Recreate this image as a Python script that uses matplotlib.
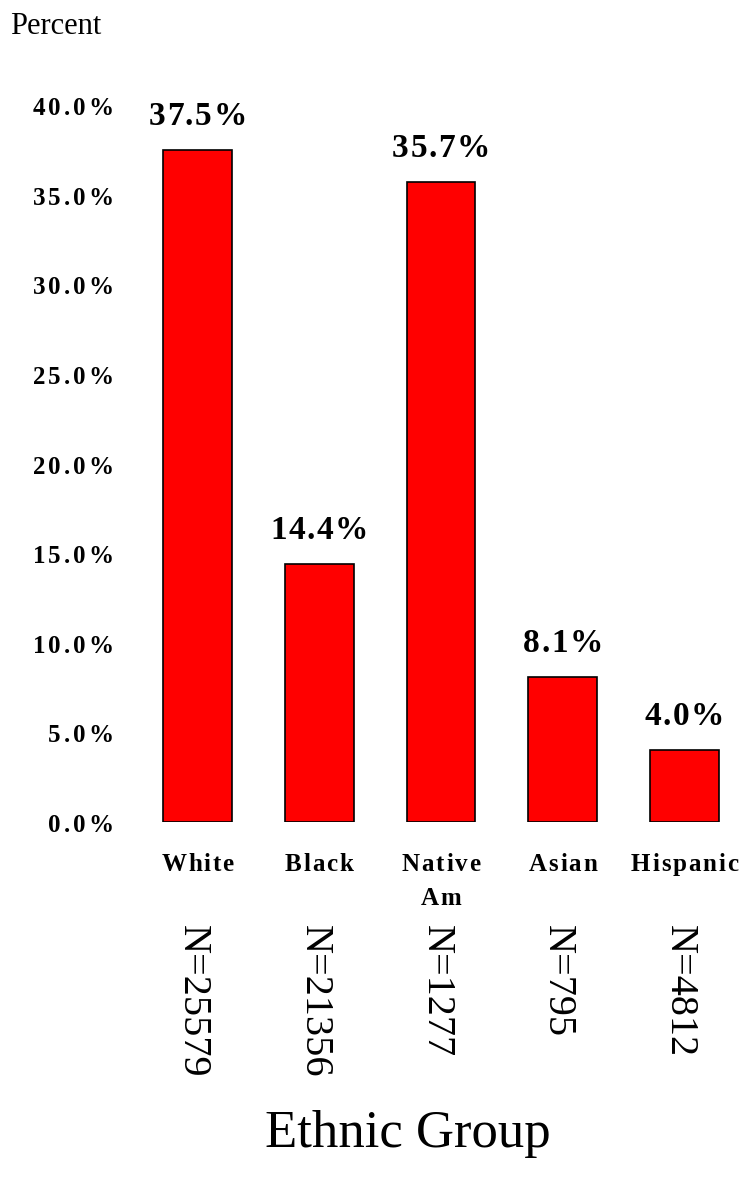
import numpy as np
import matplotlib.pyplot as plt
from matplotlib import font_manager, ft2font

groups = ["White", "Black", "Native\nAm", "Asian", "Hispanic"]
percents = [37.5, 14.4, 35.7, 8.1, 4.0]
counts = [25579, 21356, 1277, 795, 4812]
yticks = [0, 5, 10, 15, 20, 25, 30, 35, 40]

plt.rcParams['font.family'] = ['Liberation Serif', 'DejaVu Serif']

W, H = 741, 1186
DPI = 100
fig = plt.figure(figsize=(W / DPI, H / DPI), dpi=DPI)

# axes spans whole width, baseline at y=822px, 40% at y=105px
base_px, top_px = 822, 105
ax = fig.add_axes([0, 1 - base_px / H, 1, (base_px - top_px) / H])
x0_px, step_px = 197.5, 121.75
ax.set_xlim(-x0_px / step_px, (W - x0_px) / step_px)
ax.set_ylim(0, 40)

x = np.arange(len(groups))
ax.bar(x, percents, width=0.565, color="#ff0000", edgecolor="black", linewidth=1.2)

for s in ax.spines.values():
    s.set_visible(False)
ax.set_xticks([])
ax.set_yticks([])

bold_font = ft2font.FT2Font(font_manager.findfont(
    font_manager.FontProperties(family='Liberation Serif', weight='bold')))


def advances(s, size):
    bold_font.set_size(size, DPI)
    return [bold_font.load_char(ord(c)).linearHoriAdvance / 65536 for c in s]


def spaced(xp, yp, s, size, gap, ha="center"):
    # letter-spaced bold text, xp/yp in pixels from top-left
    adv = advances(s, size)
    total = sum(adv) + gap * (len(s) - 1)
    if ha == "center":
        pen = xp - total / 2
    elif ha == "right":
        pen = xp - total
    else:
        pen = xp
    for c, a in zip(s, adv):
        fig.text((pen + a / 2) / W, 1 - yp / H, c, ha="center", va="center_baseline",
                 fontsize=size, fontweight="bold")
        pen += a + gap


def ypx(v):
    return base_px - v / 40 * (base_px - top_px)


# y tick labels
for t in yticks:
    spaced(113, ypx(t) + 1, f"{t:.1f}%", 18, 2.8, ha="right")

# value labels above bars
for xi, p in zip(x, percents):
    spaced(x0_px + xi * step_px, ypx(p) - 37, f"{p:.1f}%", 24, 1.6)

# category labels, one line per row
for xi, g in zip(x, groups):
    for k, line in enumerate(g.split("\n")):
        spaced(x0_px + xi * step_px, 862 + 34 * k, line, 18, 1.8)

for xi, n in zip(x, counts):
    fig.text((x0_px + xi * step_px - 5) / W, 1 - 925 / H, f"N={n}", rotation=-90,
             ha="center", va="top", fontsize=29)

fig.text(408 / W, 1 - 1134 / H, "Ethnic Group", ha="center", va="center", fontsize=38)
fig.text(10 / W, 1 - 26 / H, "Percent", ha="left", va="center", fontsize=22)

fig.savefig("out.png", dpi=DPI)
